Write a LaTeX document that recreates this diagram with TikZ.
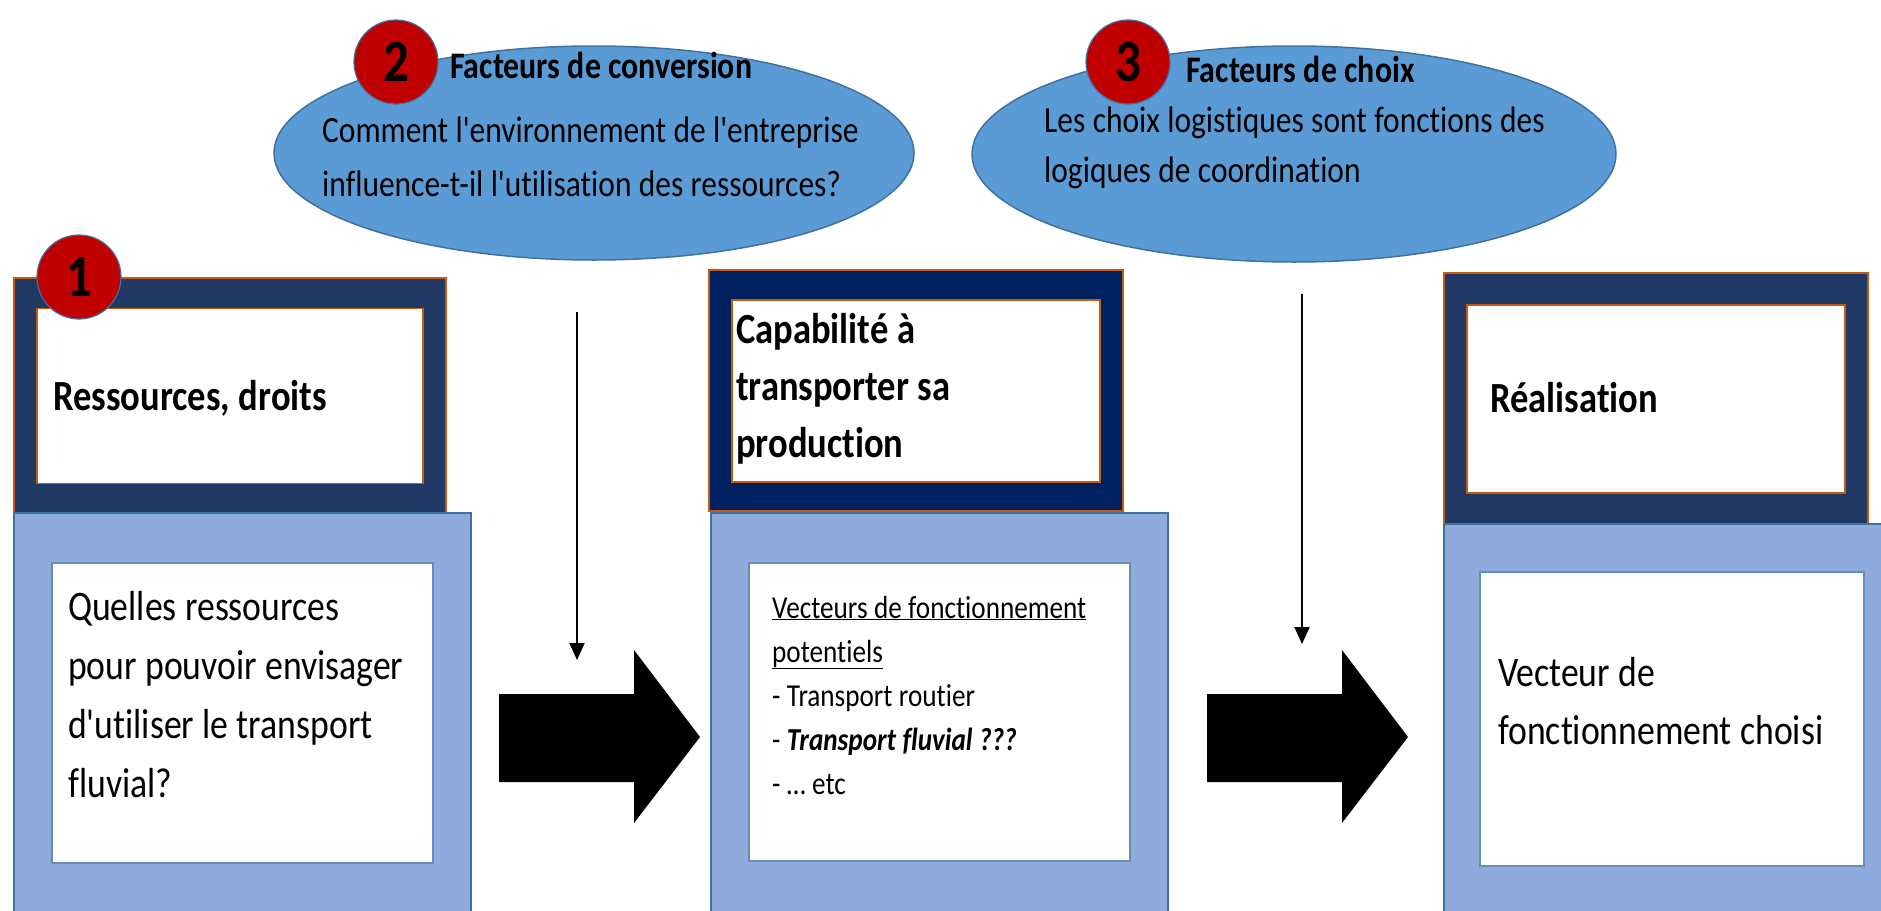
\documentclass[tikz,border=0pt]{standalone}
\usepackage{fontspec}
\setmainfont{Carlito}[FakeStretch=0.85,Ligatures={TeXOff,NoCommon}]
\usepackage{tikz}
\usetikzlibrary{positioning,shapes.geometric,arrows.meta}

\definecolor{framenavy}{HTML}{203864}
\definecolor{framedeep}{HTML}{002060}
\definecolor{rimorange}{HTML}{C55A11}
\definecolor{bodyblue}{HTML}{8FAADC}
\definecolor{rimblue}{HTML}{41719C}
\definecolor{cloudblue}{HTML}{5B9BD5}
\definecolor{badgered}{HTML}{C00000}

\tikzset{
  headframe/.style={rectangle,draw=rimorange,line width=1.2pt,fill=framenavy,inner sep=0pt},
  headcard/.style={rectangle,draw=rimorange,line width=1.2pt,fill=white,inner sep=0pt},
  bodyframe/.style={rectangle,draw=rimblue,line width=1.2pt,fill=bodyblue,inner sep=0pt},
  bodycard/.style={rectangle,draw=rimblue!80,line width=1.2pt,fill=white,inner sep=0pt},
  bubble/.style={ellipse,draw=rimblue,line width=1.5pt,fill=cloudblue,inner sep=0pt},
  badge/.style={circle,draw=rimblue,line width=1.2pt,fill=badgered,minimum size=84pt,
    inner sep=0pt,font=\fontsize{60}{60}\selectfont\bfseries},
  label/.style={inner sep=0pt,anchor=base west,align=left,text width=#1,
    execute at begin node={\spaceskip=0.2em plus 0.05em minus 0.02em\relax}},
  label/.default=600pt,
  connector/.style={-{Triangle[width=15pt,length=17pt]},line width=2pt}
}

\begin{document}
\begin{tikzpicture}[x=1pt,y=-1pt]
  \useasboundingbox (0,0) rectangle (1881,910);
  \clip (0,0) rectangle (1881,910);

  % question bubbles
  \node[bubble,minimum width=640pt,minimum height=214pt] (conv) at (594,153) {};
  \node[bubble,minimum width=644pt,minimum height=216pt] (choix) at (1294,154) {};
  \node[badge] (n2) at (396,62) {2};
  \node[badge] (n3) at (1128,62) {3};
  \node[label,font=\fontsize{37.5}{37.5}\selectfont\bfseries] (convtitle) at (450,78) {Facteurs de conversion};
  \node[label,font=\fontsize{37}{54}\selectfont] (convtext) at (322,142)
    {Comment l'environnement de l'entreprise\\influence-t-il l'utilisation des ressources?};
  \node[label,font=\fontsize{37.5}{37.5}\selectfont\bfseries] (choixtitle) at (1186,82) {Facteurs de choix};
  \node[label,font=\fontsize{37}{50}\selectfont] (choixtext) at (1044,132)
    {Les choix logistiques sont fonctions des\\logiques de coordination};

  % step 1
  \node[headframe,minimum width=432pt,minimum height=236pt] (res) at (230,396) {};
  \node[headcard,minimum width=386pt,minimum height=175pt] (rescard) at (res.center) {};
  \node[label,font=\fontsize{43}{57}\selectfont\bfseries] (restitle) at (53,410) {Ressources, droits};
  \node[badge] (n1) at (79,277) {1};
  \node[bodyframe,minimum width=457pt,minimum height=407pt] (resbody) at (242.5,716.5) {};
  \node[bodycard,minimum width=381pt,minimum height=300pt] (rescard2) at (242.5,713) {};
  \node[label,font=\fontsize{42}{59}\selectfont] (restext) at (68,620)
    {Quelles ressources\\pour pouvoir envisager\\d'utiliser le transport\\fluvial?};

  % step 2
  \node[headframe,fill=framedeep,minimum width=414pt,minimum height=241pt] (cap) at (916,390.5) {};
  \node[headcard,minimum width=368pt,minimum height=182pt] (capcard) at (916,391) {};
  \node[label,font=\fontsize{43}{57}\selectfont\bfseries] (captitle) at (736,343)
    {Capabilité à\\transporter sa\\production};
  \node[bodyframe,minimum width=457pt,minimum height=407pt] (capbody) at (939.5,716.5) {};
  \node[bodycard,minimum width=381pt,minimum height=298pt] (capcard2) at (939.5,712) {};
  \node[label,font=\fontsize{32}{44}\selectfont] (captext) at (772,618)
    {\underline{Vecteurs de fonctionnement}\\\underline{potentiels}\\- Transport routier\\
     - \textbf{\textit{Transport fluvial ???}}\\- … etc};

  % step 3
  \node[headframe,minimum width=424pt,minimum height=252pt] (real) at (1656,399) {};
  \node[headcard,minimum width=378pt,minimum height=188pt] (realcard) at (real.center) {};
  \node[label,font=\fontsize{43}{57}\selectfont\bfseries] (realtitle) at (1490,412) {Réalisation};
  \node[bodyframe,minimum width=446pt,minimum height=396pt] (realbody) at (1667,722) {};
  \node[bodycard,minimum width=384pt,minimum height=294pt] (realcard2) at (1672,719) {};
  \node[label,font=\fontsize{42}{58}\selectfont] (realtext) at (1498,686)
    {Vecteur de\\fonctionnement choisi};

  % influence arrows
  \coordinate (convfrom) at (577,312);
  \coordinate (convto) at (577,660);
  \coordinate (choixfrom) at (1302,294);
  \coordinate (choixto) at (1302,644);
  \draw[connector] (convfrom) -- (convto);
  \draw[connector] (choixfrom) -- (choixto);

  % block arrows
  \foreach \tx in {499,1207}
    \fill (\tx,694) -- (\tx+135,694) -- (\tx+135,650) -- (\tx+201,737)
      -- (\tx+135,823) -- (\tx+135,782) -- (\tx,782) -- cycle;
\end{tikzpicture}
\end{document}
